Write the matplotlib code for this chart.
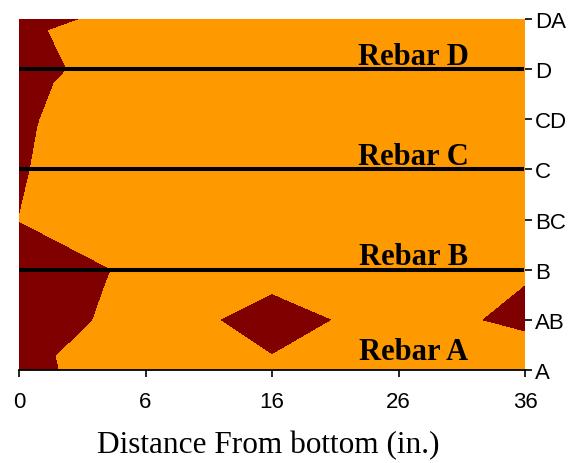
import numpy as np
import matplotlib
matplotlib.use("Agg")
import matplotlib.pyplot as plt
import matplotlib.tri as mtri

# grid: rows A..DA (bottom to top), columns at 0,6,16,26,36 in.
# values above 0 are the dark zone, below 0 the orange zone
x_labels = ['0', '6', '16', '26', '36']
y_labels = ['A', 'AB', 'B', 'BC', 'C', 'CD', 'D', 'DA']

row_A  = [0.34, -0.76, -0.28, -0.90, -1.16]
row_AB = [1.15, -0.85,  0.57, -0.67,  0.33]
row_B  = [1.46, -0.57, -0.57, -0.80, -0.16]
row_BC = [-0.09, -1.50, -1.20, -1.40, -1.00]
row_C  = [0.56, -6.43, -3.00, -2.50, -2.00]
row_CD = [1.05, -5.62, -3.50, -2.80, -2.20]
row_D  = [2.08, -3.55, -3.00, -2.60, -2.00]
row_DA = [1.00, -1.17, -2.00, -1.80, -1.50]

threshold = 0.0
rebars = ['A', 'B', 'C', 'D']
rebar_lines = ['B', 'C', 'D']

z = np.array([row_A, row_AB, row_B, row_BC, row_C, row_CD, row_D, row_DA])
nx = len(x_labels)
ny = len(y_labels)
xx, yy = np.meshgrid(np.arange(nx), np.arange(ny))
zf = z.ravel()

# split every grid cell in two triangles (surface-chart style)
tris = []
for j in range(ny - 1):
    for i in range(nx - 1):
        bl = j * nx + i
        br = j * nx + i + 1
        tl = (j + 1) * nx + i
        tr = (j + 1) * nx + i + 1
        if zf[tl] + zf[br] <= zf[tr] + zf[bl]:
            tris += [[tl, tr, br], [tl, bl, br]]
        else:
            tris += [[tl, tr, bl], [tr, br, bl]]
tri = mtri.Triangulation(xx.ravel(), yy.ravel(), tris)

fig = plt.figure(figsize=(5.73, 4.64), dpi=100)
ax = fig.add_axes([19/573., 1 - 371/464., (525 - 19)/573., (371 - 20)/464.])

ax.tricontourf(tri, zf, levels=[zf.min() - 1, threshold, zf.max() + 1],
               colors=['#FF9900', '#800000'])

for name in rebar_lines:
    ax.axhline(y_labels.index(name), xmin=0, xmax=0.995, color='k', lw=2.9, zorder=3)

for name in rebars:
    ax.text(3.12, y_labels.index(name) + 0.26 if name != 'A' else 0.37,
            'Rebar ' + name, ha='center', va='center', fontsize=22,
            fontweight='bold', family='Liberation Serif', zorder=4)

ax.set_xlim(0, nx - 1)
ax.set_ylim(0, ny - 1)
ax.set_xticks(np.arange(nx))
ax.set_xticklabels(x_labels)
ax.set_yticks(np.arange(ny))
ax.set_yticklabels(y_labels)
ax.yaxis.tick_right()

for lab in ax.get_xticklabels() + ax.get_yticklabels():
    lab.set_family('Liberation Sans')
ax.tick_params(axis='x', length=5, width=1.2, pad=10, labelsize=16)
ax.tick_params(axis='y', length=5, width=1.2, pad=2, labelsize=16)

for side in ['top', 'left', 'right']:
    ax.spines[side].set_visible(False)
ax.spines['bottom'].set_linewidth(1.3)

fig.text(268/573., 1 - 446/464., 'Distance From bottom (in.)', ha='center', va='center',
         fontsize=22.5, family='Liberation Serif')

fig.savefig('out.png', dpi=100)
